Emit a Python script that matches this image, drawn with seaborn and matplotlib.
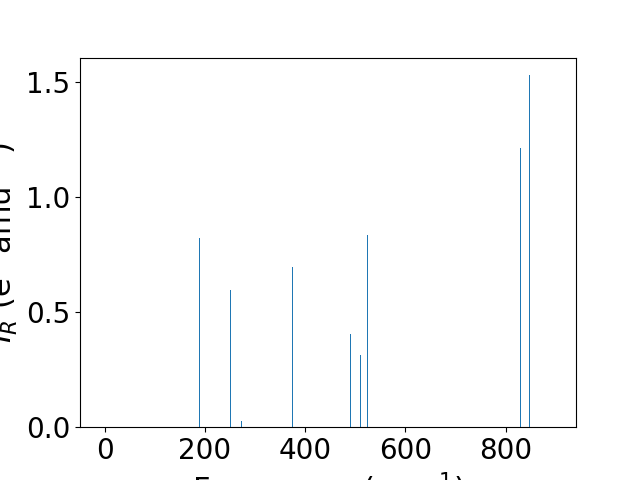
import numpy as np
import pandas as pd
import matplotlib
matplotlib.use("Agg")
import matplotlib.pyplot as plt
import seaborn as sns

# Data (frequency in cm^-1, IR intensity)
frequencies = [188.6, 250.5, 272.5, 374.0, 489.8, 509.7, 523.7, 829.5, 846.7]
intensities = [0.822, 0.596, 0.026, 0.696, 0.405, 0.313, 0.835, 1.214, 1.532]

plt.rcParams['font.size'] = 20
plt.rcParams['axes.labelsize'] = 22
plt.rcParams['font.family'] = ['DejaVu Sans']

df = pd.DataFrame({"freq": frequencies, "ir": intensities})

fig, ax = plt.subplots(figsize=(6.4, 4.8), dpi=100)
min_gap = np.min(np.diff(np.sort(df["freq"].values)))
sns.barplot(data=df, x="freq", y="ir", native_scale=True, errorbar=None,
            color="#1f77b4", saturation=1, width=1.6 / min_gap, ax=ax,
            linewidth=0)
ax.set_xlim(-49, 940)
ax.set_ylim(0, 1.606)
ax.set_xticks([0, 200, 400, 600, 800])
ax.set_yticks([0.0, 0.5, 1.0, 1.5])
ax.set_xlabel("Frequency (cm$^{-1}$)")
ax.set_ylabel("$I_R$ (e$^2$ amu$^{-1}$)")
fig.subplots_adjust(left=0.125, right=0.9, top=0.88, bottom=0.11)
fig.savefig("out.png", dpi=100)
